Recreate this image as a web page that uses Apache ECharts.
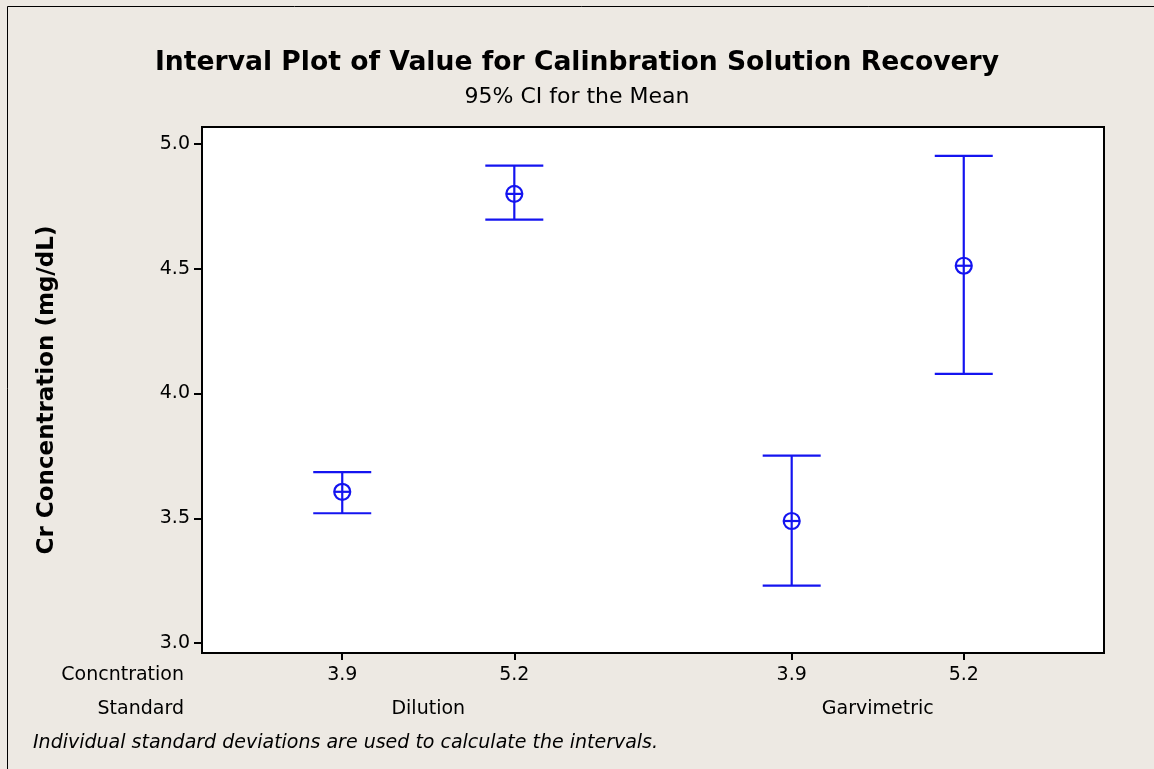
<!DOCTYPE html>
<html>
<head>
<meta charset="utf-8">
<title>Interval Plot</title>
<script src="https://cdn.jsdelivr.net/npm/echarts@6/dist/echarts.min.js"></script>
<style>
  html, body { margin: 0; padding: 0; background: #ede9e3; }
  #chart { width: 1154px; height: 769px; }
</style>
</head>
<body>
<div id="chart"></div>
<script>
// Minitab interval plot: mean with 95% CI, grouped by Standard x Concentration
const groups = ['Dilution', 'Garvimetric'];
const levels = ['3.9', '5.2'];
const means = [3.606, 4.800, 3.489, 4.512];
const lower = [3.520, 4.697, 3.230, 4.079];
const upper = [3.685, 4.913, 3.751, 4.952];
const yTicks = [3.0, 3.5, 4.0, 4.5, 5.0];

const FONT = 'DejaVu Sans';
const BLUE = '#1414f0';
const groupGap = 2.612; // distance between groups, in units of one level step

const xPos = means.map((_, i) => Math.floor(i / levels.length) * groupGap + (i % levels.length) + 1);
const groupCenters = groups.map((_, g) => g * groupGap + (levels.length + 1) / 2);
const near = (a, b) => Math.abs(a - b) < 1e-6;

const chart = echarts.init(document.getElementById('chart'));

const option = {
  backgroundColor: '#ede9e3',
  animation: false,
  title: {
    text: 'Interval Plot of Value for Calinbration Solution Recovery',
    subtext: '95% CI for the Mean',
    left: 'center',
    top: 45,
    itemGap: 9,
    textStyle: { fontFamily: FONT, fontSize: 26.6, fontWeight: 'bold', color: '#000' },
    subtextStyle: { fontFamily: FONT, fontSize: 22, color: '#000' },
  },
  grid: {
    left: 202,
    top: 127,
    width: 902,
    height: 526,
    show: true,
    backgroundColor: '#fff',
    borderColor: '#000',
    borderWidth: 2,
  },
  xAxis: [
    {
      type: 'value',
      min: 0.185,
      max: 5.427,
      axisLine: { show: true, onZero: false, lineStyle: { color: '#000', width: 2 } },
      axisTick: { show: true, customValues: xPos, length: 7, lineStyle: { color: '#000', width: 2 } },
      axisLabel: {
        customValues: xPos,
        margin: 13,
        fontFamily: FONT,
        fontSize: 19,
        color: '#000',
        formatter: v => {
          const i = xPos.findIndex(p => near(p, v));
          return i >= 0 ? levels[i % levels.length] : '';
        },
      },
      splitLine: { show: false },
    },
    {
      type: 'value',
      min: 0.185,
      max: 5.427,
      position: 'bottom',
      offset: 34,
      axisLine: { show: false },
      axisTick: { show: false },
      axisLabel: {
        customValues: groupCenters,
        margin: 13,
        fontFamily: FONT,
        fontSize: 19,
        color: '#000',
        formatter: v => {
          const g = groupCenters.findIndex(p => near(p, v));
          return g >= 0 ? groups[g] : '';
        },
      },
      splitLine: { show: false },
    },
  ],
  yAxis: {
    type: 'value',
    min: 2.96,
    max: 5.068,
    name: 'Cr Concentration (mg/dL)',
    nameLocation: 'middle',
    nameGap: 143,
    nameTextStyle: { fontFamily: FONT, fontSize: 23, fontWeight: 'bold', color: '#000' },
    axisLine: { show: true, lineStyle: { color: '#000', width: 2 } },
    axisTick: { show: true, customValues: yTicks, length: 8, lineStyle: { color: '#000', width: 2 } },
    axisLabel: {
      customValues: yTicks,
      margin: 12,
      fontFamily: FONT,
      fontSize: 19,
      color: '#000',
      formatter: v => v.toFixed(1),
    },
    splitLine: { show: false },
  },
  graphic: [
    {
      type: 'rect',
      shape: { x: 7.5, y: 6.5, width: 1200, height: 800 },
      style: { fill: 'none', stroke: '#000', lineWidth: 1 },
      silent: true,
    },
    {
      type: 'text', right: 970, top: 666,
      style: { text: 'Concntration', fontFamily: FONT, fontSize: 19, fill: '#000' },
    },
    {
      type: 'text', right: 970, top: 700,
      style: { text: 'Standard', fontFamily: FONT, fontSize: 19, fill: '#000' },
    },
    {
      type: 'text', left: 33, top: 734,
      style: {
        text: 'Individual standard deviations are used to calculate the intervals.',
        fontFamily: FONT, fontSize: 19, fontStyle: 'italic', fill: '#000',
      },
    },
  ],
  series: [
    {
      type: 'custom',
      xAxisIndex: 0,
      data: means.map((m, i) => [xPos[i], m, lower[i], upper[i]]),
      encode: { x: 0, y: [1, 2, 3] },
      renderItem: (params, api) => {
        const x = api.value(0);
        const c = api.coord([x, api.value(1)]);
        const lo = api.coord([x, api.value(2)]);
        const hi = api.coord([x, api.value(3)]);
        const cap = 29;
        const r = 8;
        const st = { stroke: BLUE, lineWidth: 2.2, fill: 'none' };
        return {
          type: 'group',
          children: [
            { type: 'line', shape: { x1: hi[0], y1: hi[1], x2: lo[0], y2: lo[1] }, style: st },
            { type: 'line', shape: { x1: hi[0] - cap, y1: hi[1], x2: hi[0] + cap, y2: hi[1] }, style: st },
            { type: 'line', shape: { x1: lo[0] - cap, y1: lo[1], x2: lo[0] + cap, y2: lo[1] }, style: st },
            { type: 'circle', shape: { cx: c[0], cy: c[1], r: r }, style: st },
            { type: 'line', shape: { x1: c[0] - r, y1: c[1], x2: c[0] + r, y2: c[1] }, style: st },
          ],
        };
      },
    },
  ],
};

chart.setOption(option);
window.addEventListener('resize', () => chart.resize());
</script>
</body>
</html>
